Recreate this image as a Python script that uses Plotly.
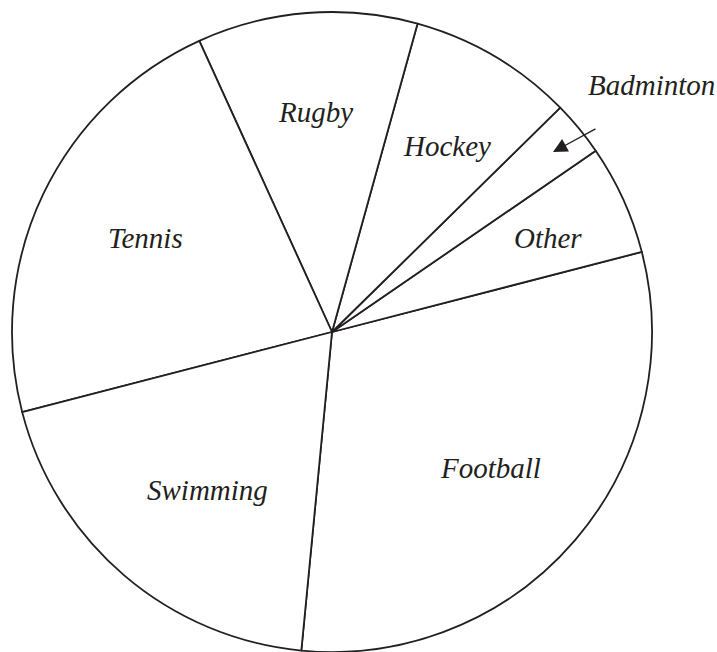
import plotly.graph_objects as go

W, H = 717, 652
INK = "#231f20"
SERIF = "Liberation Serif"

# --- data: degrees of the pie ---------------------------------------------
sports = ["Football", "Other", "Badminton", "Hockey", "Rugby", "Tennis", "Swimming"]
degrees = [110, 20, 10, 30, 40, 80, 70]

# label placement (pixel centres in the picture)
label_px = {"Football": (490, 468), "Other": (548, 238), "Hockey": (447, 146),
            "Rugby": (315, 112), "Tennis": (145, 238), "Swimming": (208, 490),
            "Badminton": (651, 85)}


def px(x, y):
    return x / W, 1 - y / H


# circle: centre (332, 332), radius 320
fig = go.Figure(go.Pie(
    labels=sports, values=degrees, sort=False, direction="counterclockwise",
    rotation=75.5, textinfo="none", hoverinfo="skip", showlegend=False,
    marker=dict(colors=["white"] * len(sports), line=dict(color=INK, width=1.8)),
    domain=dict(x=[12 / W, 652 / W], y=[0, 640 / H])))

for name, (x, y) in label_px.items():
    xx, yy = px(x, y)
    fig.add_annotation(x=xx, y=yy, xref="paper", yref="paper", text=name,
                       xanchor="center", yanchor="middle", showarrow=False,
                       font=dict(family=SERIF, size=29, color=INK, style="italic"))

# arrow from the Badminton label into its slice
hx, hy = px(553, 152)
fig.add_annotation(x=hx, y=hy, xref="paper", yref="paper", text="", showarrow=True,
                   ax=44, ay=-24, arrowhead=2, arrowsize=2.2, arrowwidth=1.3, arrowcolor=INK)

fig.update_layout(width=W, height=H, margin=dict(l=0, r=0, t=0, b=0),
                  paper_bgcolor="white", plot_bgcolor="white")
# drop the page's default 8px body margin so the figure sits flush in the window
fig.write_html("out.html", config={"displayModeBar": False},
               post_script="document.body.style.margin='0';"
                           "document.body.style.overflow='hidden';")
